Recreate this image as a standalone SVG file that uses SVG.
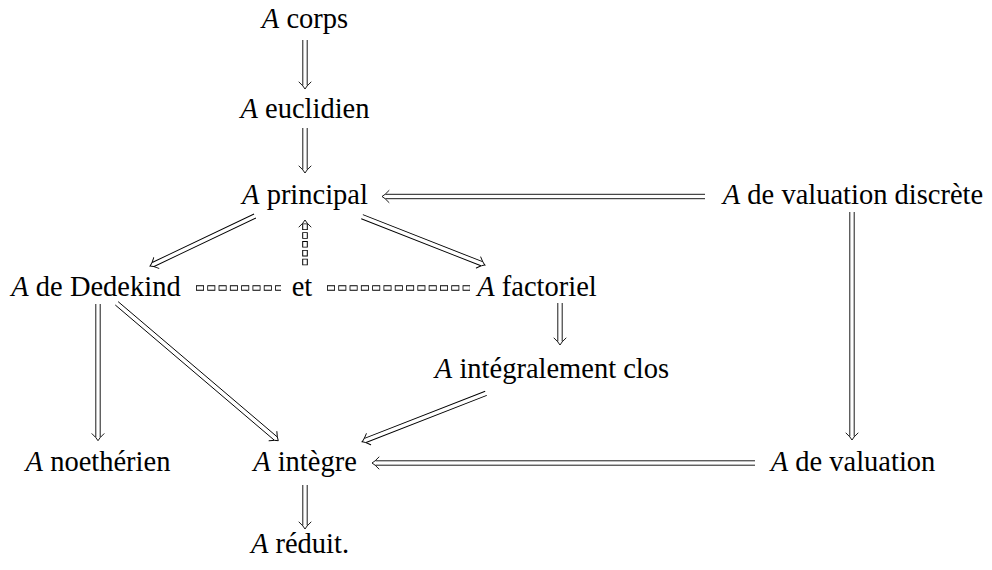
<svg xmlns="http://www.w3.org/2000/svg" xmlns:xlink="http://www.w3.org/1999/xlink" width="992" height="570" viewBox="0 0 992 570">
<style>
.t{font-family:"Liberation Serif",serif;font-size:28.5px;fill:#000;text-anchor:middle}
.i{font-style:italic}
.dl{fill:none;stroke:#000;stroke-width:0.9}
.hd{fill:none;stroke:#000;stroke-width:0.9;stroke-linecap:round}
.dho{fill:none;stroke:#000;stroke-width:5.6;stroke-dasharray:8 3.3}
.dhi{fill:none;stroke:#fff;stroke-width:3.6;stroke-dasharray:6.4 4.9;stroke-dashoffset:-0.8}
.dvo{fill:none;stroke:#000;stroke-width:5.6;stroke-dasharray:6.5 2.3}
.dvi{fill:none;stroke:#fff;stroke-width:3.6;stroke-dasharray:4.9 3.9;stroke-dashoffset:-0.8}
</style>
<defs>
<path id="tip" class="hd" d="M-7,-6 Q-2.7,-1.3 0,0 Q-2.7,1.3 -7,6"/>
</defs>
<rect width="992" height="570" fill="#fff"/>
<g id="connectors">
<g transform="translate(305,89) rotate(90)"><path class="dl" d="M-49,-2.2 H-3.5 M-49,2.2 H-3.5"/><use xlink:href="#tip"/></g>
<g transform="translate(305,173) rotate(90)"><path class="dl" d="M-45,-2.2 H-3.5 M-45,2.2 H-3.5"/><use xlink:href="#tip"/></g>
<g transform="translate(382,196.5) rotate(180)"><path class="dl" d="M-323,-2.2 H-3.5 M-323,2.2 H-3.5"/><use xlink:href="#tip"/></g>
<g transform="translate(150,266) rotate(154.54)"><path class="dl" d="M-116.3,-2.2 H-3.5 M-116.3,2.2 H-3.5"/><use xlink:href="#tip"/></g>
<g transform="translate(485,265) rotate(21.44)"><path class="dl" d="M-132.1,-2.2 H-3.5 M-132.1,2.2 H-3.5"/><use xlink:href="#tip"/></g>
<g transform="translate(305,220) rotate(-90)"><path class="dvo" d="M-3.5,0 H-47"/><path class="dvi" d="M-3.5,0 H-47"/><use xlink:href="#tip"/></g>
<path class="dho" d="M196,288 H281"/><path class="dhi" d="M196,288 H281"/>
<path class="dho" d="M327,288 H470"/><path class="dhi" d="M327,288 H470"/>
<g transform="translate(560,345) rotate(90)"><path class="dl" d="M-42,-2.2 H-3.5 M-42,2.2 H-3.5"/><use xlink:href="#tip"/></g>
<g transform="translate(362,441.7) rotate(158.68)"><path class="dl" d="M-133.1,-2.2 H-3.5 M-133.1,2.2 H-3.5"/><use xlink:href="#tip"/></g>
<g transform="translate(98,440.7) rotate(90)"><path class="dl" d="M-136.7,-2.2 H-3.5 M-136.7,2.2 H-3.5"/><use xlink:href="#tip"/></g>
<g transform="translate(278.3,440.7) rotate(40.37)"><path class="dl" d="M-212.1,-2.2 H-3.5 M-212.1,2.2 H-3.5"/><use xlink:href="#tip"/></g>
<g transform="translate(852,440) rotate(90)"><path class="dl" d="M-228,-2.2 H-3.5 M-228,2.2 H-3.5"/><use xlink:href="#tip"/></g>
<g transform="translate(372,463) rotate(180)"><path class="dl" d="M-383,-2.2 H-3.5 M-383,2.2 H-3.5"/><use xlink:href="#tip"/></g>
<g transform="translate(305,529) rotate(90)"><path class="dl" d="M-44,-2.2 H-3.5 M-44,2.2 H-3.5"/><use xlink:href="#tip"/></g>
</g>
<g id="corps"><text class="t" x="305" y="28"><tspan class="i">A</tspan> corps</text></g>
<g id="euclidien"><text class="t" x="305" y="118"><tspan class="i">A</tspan> euclidien</text></g>
<g id="principal"><text class="t" x="305" y="204"><tspan class="i">A</tspan> principal</text></g>
<g id="valdiscrete"><text class="t" x="853" y="204"><tspan class="i">A</tspan> de valuation discrète</text></g>
<g id="dedekind"><text class="t" x="96" y="296"><tspan class="i">A</tspan> de Dedekind</text></g>
<g id="et"><text class="t" x="302" y="296">et</text></g>
<g id="factoriel"><text class="t" x="537" y="296"><tspan class="i">A</tspan> factoriel</text></g>
<g id="integclos"><text class="t" x="552" y="378"><tspan class="i">A</tspan> intégralement clos</text></g>
<g id="noetherien"><text class="t" x="98" y="471"><tspan class="i">A</tspan> noethérien</text></g>
<g id="integre"><text class="t" x="305" y="471"><tspan class="i">A</tspan> intègre</text></g>
<g id="valuation"><text class="t" x="853" y="471"><tspan class="i">A</tspan> de valuation</text></g>
<g id="reduit"><text class="t" x="300" y="553"><tspan class="i">A</tspan> réduit.</text></g>
</svg>
